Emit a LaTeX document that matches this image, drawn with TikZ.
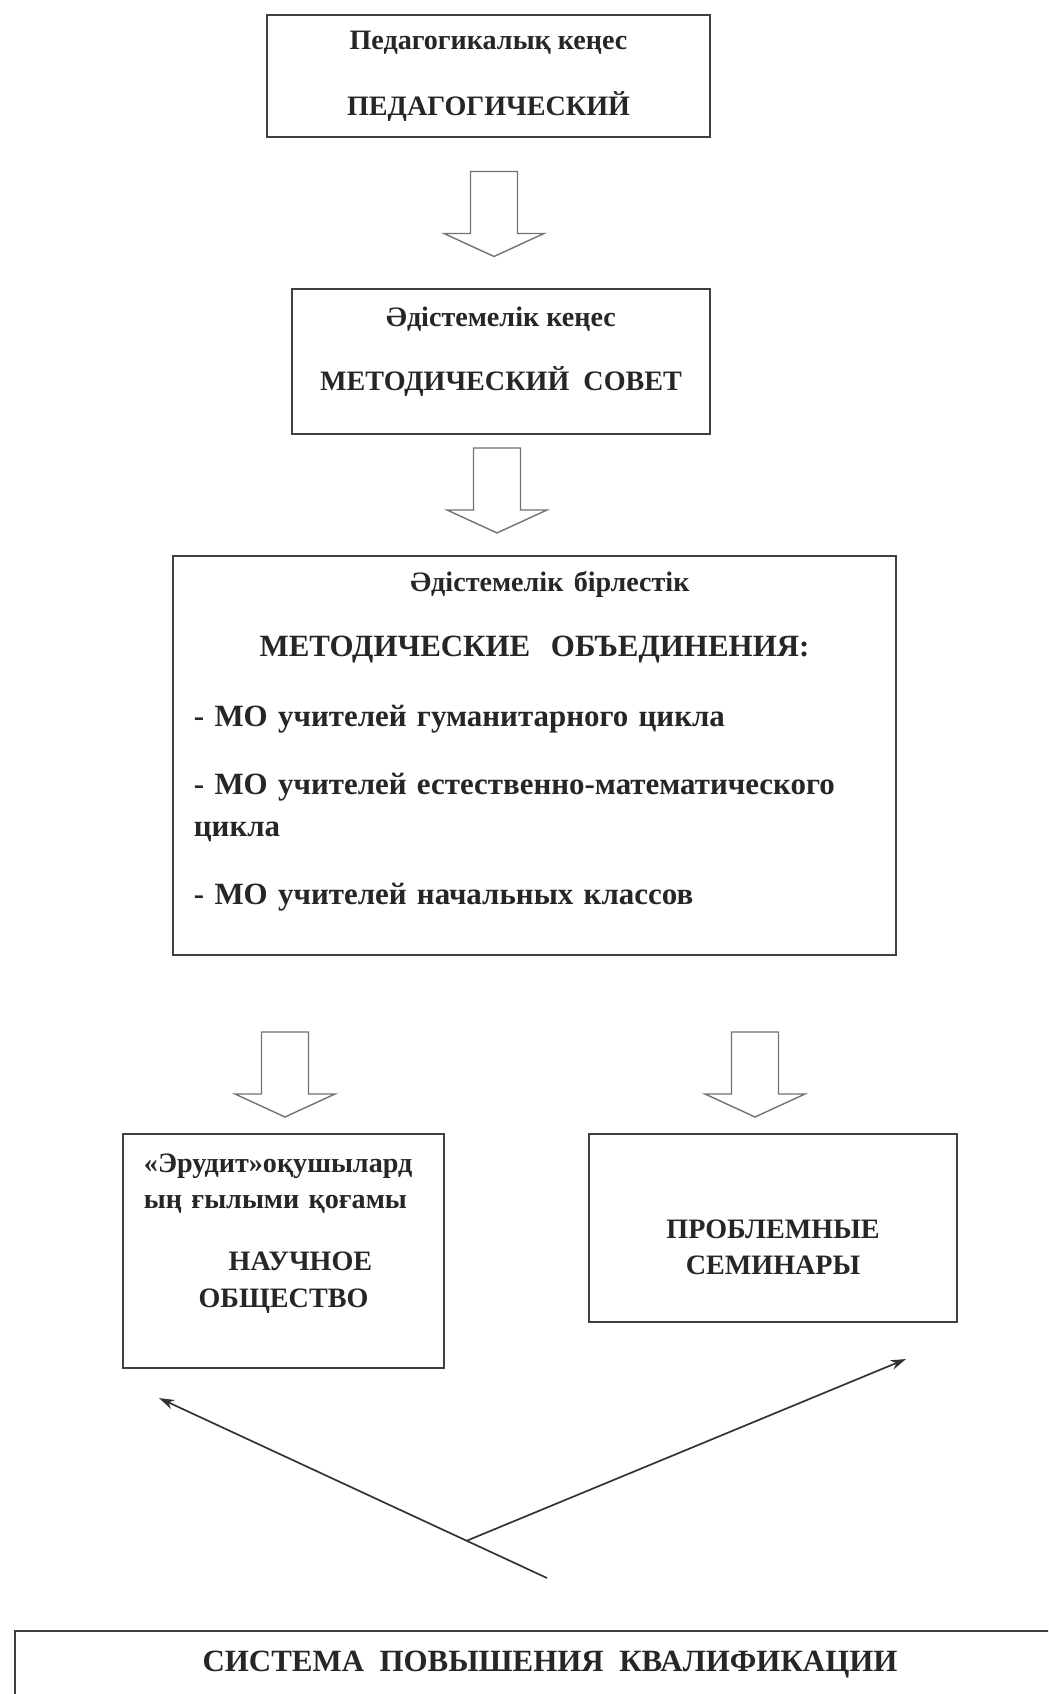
\documentclass[tikz,border=0pt]{standalone}
\usepackage{fontspec}
\setmainfont{Liberation Serif}
\usepackage{tikz}
\usetikzlibrary{arrows.meta,positioning,calc}

\begin{document}
\begin{tikzpicture}[
	x=0.025cm, y=-0.025cm,
	box/.style={rectangle, draw=black!75, line width=1.4pt, inner sep=0pt, align=center, text=black!85, font=\fontsize{20}{24}\selectfont\bfseries},
	link/.style={-{Stealth[length=11pt,width=7pt]}, line width=1.2pt, draw=black!80},
	blockarrow/.pic={
		\draw[draw=black!55, line width=1pt, fill=white] (0,0) -- (-50,-23) -- (-23.5,-23) -- (-23.5,-85) -- (23.5,-85) -- (23.5,-23) -- (50,-23) -- cycle;
	}
	]
	
	% Page
	\useasboundingbox (0,0) rectangle (1048,1694);
	\fill[white] (0,0) rectangle (1048,1694);
	\clip (0,0) rectangle (1048,1694);
	
	% Councils
	\node[box, minimum width=11.075cm, minimum height=3.05cm] (pedsovet) at (488.5,76) {Педагогикалық кеңес\\[23pt]ПЕДАГОГИЧЕСКИЙ};
	\node[box, minimum width=10.425cm, minimum height=3.6cm] (metsovet) at (501,361.5) {Әдістемелік кеңес\\[22pt]МЕТОДИЧЕСКИЙ\ \ СОВЕТ\rule[-18pt]{0pt}{0pt}};
	
	% Methodical unions
	\node[box, minimum width=18.075cm, minimum height=9.975cm, text width=17.025cm, align=left, font=\fontsize{22}{30}\selectfont\bfseries] (metob) at (534.5,755.5) {
		\hspace*{\fill}\hspace*{22pt}{\fontsize{20}{30}\selectfont Әдістемелік бірлестік}\hspace*{\fill}\mbox{}\\[16pt]
		\hspace*{\fill}МЕТОДИЧЕСКИЕ\ \ ОБЪЕДИНЕНИЯ:\hspace*{\fill}\mbox{}\\[20pt]
		- МО учителей гуманитарного цикла\\[18pt]
		- МО учителей естественно-математического\\
		цикла\\[18pt]
		- МО учителей начальных классов\rule[-25pt]{0pt}{0pt}};
	
	% Lower boxes
	\node[box, minimum width=8.025cm, minimum height=5.85cm, text width=6.975cm, align=left, font=\fontsize{20}{26}\selectfont\bfseries] (nauch) at (283.5,1251) {
		«Эрудит»оқушылард\\
		ың ғылыми қоғамы\\[18pt]
		\hspace*{\fill}\hspace*{24pt}НАУЧНОЕ\hspace*{\fill}\mbox{}\\
		\hspace*{\fill}ОБЩЕСТВО\hspace*{\fill}\mbox{}\rule[-29.5pt]{0pt}{0pt}};
	\node[box, minimum width=9.2cm, minimum height=4.7cm, font=\fontsize{20}{26}\selectfont\bfseries] (semin) at (773,1228) {\rule{0pt}{41pt}ПРОБЛЕМНЫЕ\\СЕМИНАРЫ};
	
	% Bottom box (cut by the page)
	\node[box, anchor=north, minimum width=26.75cm, font=\fontsize{22}{26}\selectfont\bfseries] (sistema) at (550,1630) {\rule{0pt}{28.5pt}\rule[-60pt]{0pt}{0pt}СИСТЕМА\ \ ПОВЫШЕНИЯ\ \ КВАЛИФИКАЦИИ};
	
	% Hollow arrows
	\pic (arrA) at ($(metsovet.north)+(-7,-32)$) {blockarrow};
	\pic (arrB) at ($(metob.north)+(-37.5,-22)$) {blockarrow};
	\pic (arrC) at ($(nauch.north)+(1.5,-16)$) {blockarrow};
	\pic (arrD) at ($(semin.north)+(-18,-16)$) {blockarrow};
	
	% Thin arrows
	\coordinate (nauchtip) at ($(nauch.south west)+(37,29)$);
	\coordinate (semintip) at ($(semin.south east)+(-52,36)$);
	\coordinate (tail) at ($(sistema.north)+(-3,-52)$);
	\coordinate (fork) at ($(tail)!0.207!(nauchtip)$);
	\draw[link] (tail) -- (nauchtip);
	\draw[link] (fork) -- (semintip);
	
\end{tikzpicture}
\end{document}
